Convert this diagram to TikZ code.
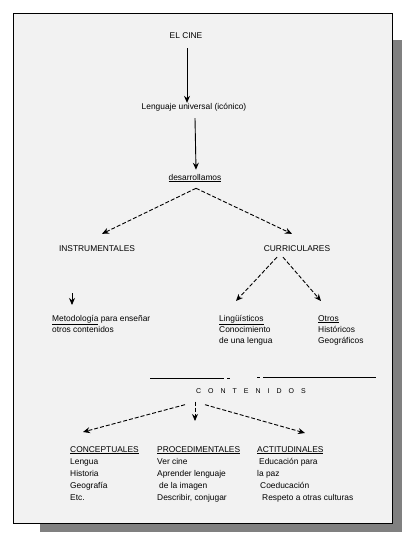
\documentclass[tikz,border=0pt]{standalone}
\usepackage{fontspec}
\setmainfont{Liberation Sans}
\usetikzlibrary{arrows.meta}
\definecolor{shadowgray}{HTML}{808080}
\definecolor{panel}{HTML}{F2F2F2}
\begin{document}
\begin{tikzpicture}[x=1pt,y=-1pt,
  txt/.style={inner sep=0pt, font=\fontsize{8.4}{11}\selectfont},
  blk/.style={txt, anchor=north west, align=left},
  bblk/.style={txt, anchor=north west, align=left, font=\fontsize{8.4}{12}\selectfont},
  arr/.style={-{Stealth[length=7pt,width=6pt]}, line width=0.9pt},
  darr/.style={arr, dash pattern=on 4pt off 2pt}]
\useasboundingbox (0,0) rectangle (414,543);
% shadow and panel
\fill[shadowgray] (40,40) rectangle (402,532);
\filldraw[fill=panel, draw=black, line width=0.8pt] (13,13) rectangle (392,523);

% main chain
\node[txt] (cine) at (186,36) {EL CINE};
\node[txt] (leng) at (194,107) {Lenguaje universal (icónico)};
\node[txt] (des) at (195,178) {\underline{desarrollamos}};
\node[txt] (inst) at (97,249) {INSTRUMENTALES};
\node[txt] (curr) at (297,249) {CURRICULARES};

\draw[arr] ([xshift=1pt,yshift=-9pt]cine.south) -- ([xshift=1pt]cine.south |- leng.north);
\draw[arr] ([xshift=1pt,yshift=-7pt]leng.south) -- ([xshift=1pt,yshift=4pt]des.north);
\draw[darr] ([xshift=1pt,yshift=-6pt]des.south) -- ([xshift=5pt,yshift=12pt]inst.north);
\draw[darr] ([xshift=1pt,yshift=-6pt]des.south) -- ([xshift=-5pt,yshift=12pt]curr.north);

% instrumentales branch
\node[blk] (metod) at (52,315) {\underline{Metodología} para enseñar\\otros contenidos};
\coordinate (instarr) at (72,293);
\draw[arr] (instarr) -- (instarr |- 0,305);

% curriculares branch
\node[blk] (ling) at (219,315) {\underline{Lingüísticos}\\Conocimiento\\de una lengua};
\node[blk] (otros) at (318,315) {\underline{Otros}\\Históricos\\Geográficos};
\draw[darr] ([xshift=-20pt,yshift=-5pt]curr.south) -- ([xshift=17pt,yshift=14pt]ling.north west);
\draw[darr] ([xshift=-14pt,yshift=-5pt]curr.south) -- ([xshift=3pt,yshift=14pt]otros.north west);

% contenidos
\node[txt, font=\fontsize{7}{8}\selectfont] (cont) at (251,391)
  {C\hspace{7pt}O\hspace{7pt}N\hspace{7pt}T\hspace{7pt}E\hspace{7pt}N\hspace{7pt}I\hspace{7pt}D\hspace{7pt}O\hspace{7pt}S};
\draw[line width=0.8pt] (150,378) -- (224,378) (227,378) -- (230,378);
\draw[line width=0.8pt] (257,377) -- (260,377) (263,377) -- (376,377);

% bottom columns
\node[bblk] (conc) at (70,446) {\underline{CONCEPTUALES}\\Lengua\\Historia\\Geografía\\Etc.};
\node[bblk] (proc) at (157,446) {\underline{PROCEDIMENTALES}\\Ver cine\\Aprender lenguaje\\\hspace{2pt}de la imagen\\Describir, conjugar};
\node[bblk] (acti) at (257,446) {\underline{ACTITUDINALES}\\\hspace{2pt}Educación para\\la paz\\\hspace{3pt}Coeducación\\\hspace{5pt}Respeto a otras culturas};

\draw[darr] ([xshift=-66pt,yshift=-11pt]cont.south) -- ([xshift=13pt,yshift=14pt]conc.north west);
\draw[darr] ([xshift=-56pt,yshift=-8pt]cont.south) -- ([xshift=38pt,yshift=25pt]proc.north west);
\draw[darr] ([xshift=-46pt,yshift=-11pt]cont.south) -- ([xshift=48pt,yshift=13pt]acti.north west);
\end{tikzpicture}
\end{document}
